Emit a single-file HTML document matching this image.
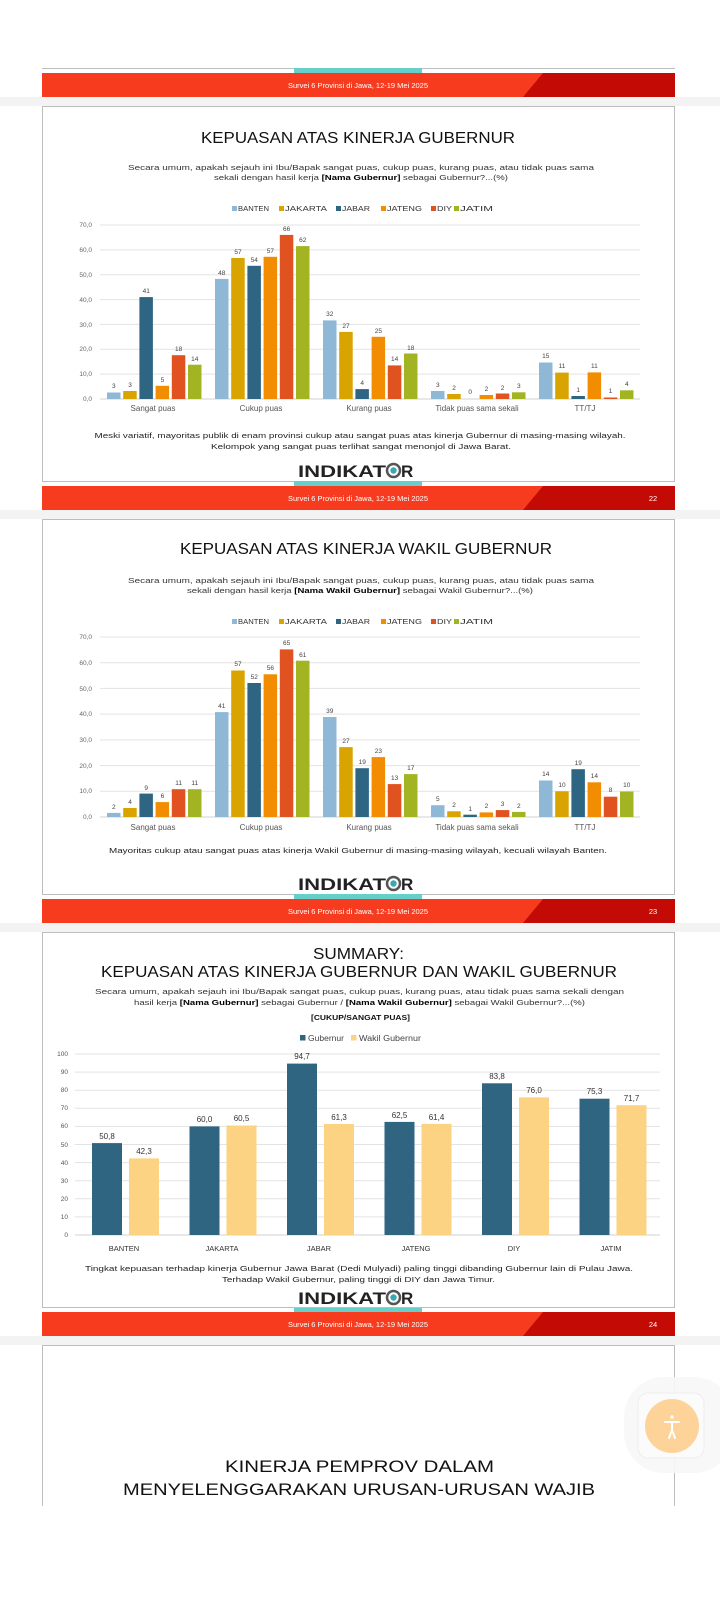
<!DOCTYPE html>
<html><head><meta charset="utf-8"><style>
html,body{margin:0;padding:0;background:#fff;}
svg{display:block;font-family:"Liberation Sans",sans-serif;}
</style></head><body>
<svg width="720" height="1600" viewBox="0 0 720 1600" xmlns="http://www.w3.org/2000/svg">
<defs>
<g id="redbar">
<rect x="42" y="0" width="633" height="24" fill="#f73b1f"/>
<polygon points="543,0 675,0 675,24 523,24" fill="#c40a05"/>
</g>
<g id="leg6" font-size="7.5" fill="#333">
<rect x="232" y="0" width="5" height="5" fill="#8fb8d6"/><text x="238" y="5" textLength="31" lengthAdjust="spacingAndGlyphs">BANTEN</text>
<rect x="279" y="0" width="5" height="5" fill="#d9a300"/><text x="285" y="5" textLength="42" lengthAdjust="spacingAndGlyphs">JAKARTA</text>
<rect x="336" y="0" width="5" height="5" fill="#2e6583"/><text x="342" y="5" textLength="28" lengthAdjust="spacingAndGlyphs">JABAR</text>
<rect x="381" y="0" width="5" height="5" fill="#f28c00"/><text x="387" y="5" textLength="35" lengthAdjust="spacingAndGlyphs">JATENG</text>
<rect x="431" y="0" width="5" height="5" fill="#e0521f"/><text x="437" y="5" textLength="15" lengthAdjust="spacingAndGlyphs">DIY</text>
<rect x="454" y="0" width="5" height="5" fill="#a3b422"/><text x="460" y="5" textLength="33" lengthAdjust="spacingAndGlyphs">JATIM</text>
</g>
</defs>
<rect width="720" height="1600" fill="#fff"/>

<line x1="42" y1="68.5" x2="675" y2="68.5" stroke="#bdbdbd"/>
<rect x="294" y="68" width="128" height="6" fill="#66cfc9"/>
<use href="#redbar" y="73"/>
<text x="358" y="88" font-size="7.5" fill="#fff" text-anchor="middle">Survei 6 Provinsi di Jawa, 12-19 Mei 2025</text>
<rect x="0" y="97" width="720" height="9" fill="#f3f3f3"/>

<!-- SLIDE 1 -->
<rect x="42.5" y="106.5" width="632" height="375" fill="#fff" stroke="#bdbdbd"/>
<text x="358" y="143" font-size="16" text-anchor="middle" fill="#111" textLength="314" lengthAdjust="spacingAndGlyphs">KEPUASAN ATAS KINERJA GUBERNUR</text>
<text x="361" y="170" font-size="7.5" text-anchor="middle" fill="#333" textLength="466" lengthAdjust="spacingAndGlyphs">Secara umum, apakah sejauh ini Ibu/Bapak sangat puas, cukup puas, kurang puas, atau tidak puas sama</text>
<text x="361" y="180" font-size="7.5" text-anchor="middle" fill="#333" textLength="294" lengthAdjust="spacingAndGlyphs">sekali dengan hasil kerja <tspan font-weight="bold" fill="#000">[Nama Gubernur]</tspan> sebagai Gubernur?...(%)</text>
<use href="#leg6" y="206"/>
<g stroke="#e3e3e3" stroke-width="1">
<line x1="100" y1="225" x2="640" y2="225"/><line x1="100" y1="249.9" x2="640" y2="249.9"/><line x1="100" y1="274.7" x2="640" y2="274.7"/><line x1="100" y1="299.6" x2="640" y2="299.6"/><line x1="100" y1="324.4" x2="640" y2="324.4"/><line x1="100" y1="349.3" x2="640" y2="349.3"/><line x1="100" y1="374.1" x2="640" y2="374.1"/><line x1="100" y1="399" x2="640" y2="399" stroke="#d0d0d0"/>
</g>
<g font-size="6.5" fill="#666" text-anchor="end">
<text x="92" y="227">70,0</text><text x="92" y="252">60,0</text><text x="92" y="277">50,0</text><text x="92" y="302">40,0</text><text x="92" y="327">30,0</text><text x="92" y="351">20,0</text><text x="92" y="376">10,0</text><text x="92" y="401">0,0</text>
</g>
<g>
<rect x="107" y="392.5" width="13.5" height="6.5" fill="#8fb8d6"/><rect x="123.2" y="391" width="13.5" height="8" fill="#d9a300"/><rect x="139.4" y="297.1" width="13.5" height="101.9" fill="#2e6583"/><rect x="155.6" y="385.8" width="13.5" height="13.2" fill="#f28c00"/><rect x="171.8" y="355.2" width="13.5" height="43.8" fill="#e0521f"/><rect x="188" y="364.7" width="13.5" height="34.3" fill="#a3b422"/>
<rect x="215" y="278.9" width="13.5" height="120.1" fill="#8fb8d6"/><rect x="231.2" y="258" width="13.5" height="141" fill="#d9a300"/><rect x="247.4" y="265.8" width="13.5" height="133.2" fill="#2e6583"/><rect x="263.6" y="256.8" width="13.5" height="142.2" fill="#f28c00"/><rect x="279.8" y="234.9" width="13.5" height="164.1" fill="#e0521f"/><rect x="296" y="246.1" width="13.5" height="152.9" fill="#a3b422"/>
<rect x="323" y="320.4" width="13.5" height="78.6" fill="#8fb8d6"/><rect x="339.2" y="331.9" width="13.5" height="67.1" fill="#d9a300"/><rect x="355.4" y="389.1" width="13.5" height="9.9" fill="#2e6583"/><rect x="371.6" y="336.8" width="13.5" height="62.2" fill="#f28c00"/><rect x="387.8" y="365.4" width="13.5" height="33.6" fill="#e0521f"/><rect x="404" y="353.5" width="13.5" height="45.5" fill="#a3b422"/>
<rect x="431" y="391" width="13.5" height="8" fill="#8fb8d6"/><rect x="447.2" y="394" width="13.5" height="5" fill="#d9a300"/><rect x="479.6" y="395" width="13.5" height="4" fill="#f28c00"/><rect x="495.8" y="393.5" width="13.5" height="5.5" fill="#e0521f"/><rect x="512" y="392.3" width="13.5" height="6.7" fill="#a3b422"/>
<rect x="539" y="362.5" width="13.5" height="36.5" fill="#8fb8d6"/><rect x="555.2" y="372.6" width="13.5" height="26.4" fill="#d9a300"/><rect x="571.4" y="396" width="13.5" height="3" fill="#2e6583"/><rect x="587.6" y="372.4" width="13.5" height="26.6" fill="#f28c00"/><rect x="603.8" y="397.5" width="13.5" height="1.5" fill="#e0521f"/><rect x="620" y="390.3" width="13.5" height="8.7" fill="#a3b422"/>
</g>
<g font-size="6.5" fill="#444" text-anchor="middle">
<text x="113.8" y="388">3</text><text x="130" y="387">3</text><text x="146.2" y="293">41</text><text x="162.4" y="382">5</text><text x="178.6" y="351">18</text><text x="194.8" y="361">14</text>
<text x="221.8" y="275">48</text><text x="238" y="254">57</text><text x="254.2" y="262">54</text><text x="270.4" y="253">57</text><text x="286.6" y="231">66</text><text x="302.8" y="242">62</text>
<text x="329.8" y="316">32</text><text x="346" y="328">27</text><text x="362.2" y="385">4</text><text x="378.4" y="333">25</text><text x="394.6" y="361">14</text><text x="410.8" y="350">18</text>
<text x="437.8" y="387">3</text><text x="454" y="390">2</text><text x="470.2" y="394">0</text><text x="486.4" y="391">2</text><text x="502.6" y="390">2</text><text x="518.8" y="388">3</text>
<text x="545.8" y="358">15</text><text x="562" y="368">11</text><text x="578.2" y="392">1</text><text x="594.4" y="368">11</text><text x="610.6" y="393">1</text><text x="626.8" y="386">4</text>
</g>
<g font-size="8" fill="#555" text-anchor="middle">
<text x="153" y="411">Sangat puas</text><text x="261" y="411">Cukup puas</text><text x="369" y="411">Kurang puas</text><text x="477" y="411">Tidak puas sama sekali</text><text x="585" y="411">TT/TJ</text>
</g>
<text x="360" y="438" font-size="7.5" text-anchor="middle" fill="#222" textLength="531" lengthAdjust="spacingAndGlyphs">Meski variatif, mayoritas publik di enam provinsi cukup atau sangat puas atas kinerja Gubernur di masing-masing wilayah.</text>
<text x="361" y="449" font-size="7.5" text-anchor="middle" fill="#222" textLength="300" lengthAdjust="spacingAndGlyphs">Kelompok yang sangat puas terlihat sangat menonjol di Jawa Barat.</text>
<g>
<text x="298" y="477" font-size="17" font-weight="bold" fill="#222" textLength="88" lengthAdjust="spacingAndGlyphs">INDIKAT</text>
<circle cx="393.5" cy="470.5" r="6.5" fill="none" stroke="#555" stroke-width="2.5"/><circle cx="393.5" cy="470.5" r="3.2" fill="#3aa8b0"/>
<text x="401" y="477" font-size="17" font-weight="bold" fill="#222">R</text>
</g>
<rect x="294" y="481" width="128" height="6" fill="#66cfc9"/>
<use href="#redbar" y="486"/>
<text x="358" y="501" font-size="7.5" fill="#fff" text-anchor="middle">Survei 6 Provinsi di Jawa, 12-19 Mei 2025</text>
<text x="653" y="501" font-size="7.5" fill="#fff" text-anchor="middle">22</text>
<rect x="0" y="510" width="720" height="9" fill="#f3f3f3"/>

<!-- SLIDE 2 -->
<rect x="42.5" y="519.5" width="632" height="375" fill="#fff" stroke="#bdbdbd"/>
<text x="366" y="554" font-size="16" text-anchor="middle" fill="#111" textLength="372" lengthAdjust="spacingAndGlyphs">KEPUASAN ATAS KINERJA WAKIL GUBERNUR</text>
<text x="361" y="583" font-size="7.5" text-anchor="middle" fill="#333" textLength="466" lengthAdjust="spacingAndGlyphs">Secara umum, apakah sejauh ini Ibu/Bapak sangat puas, cukup puas, kurang puas, atau tidak puas sama</text>
<text x="360" y="593" font-size="7.5" text-anchor="middle" fill="#333" textLength="346" lengthAdjust="spacingAndGlyphs">sekali dengan hasil kerja <tspan font-weight="bold" fill="#000">[Nama Wakil Gubernur]</tspan> sebagai Wakil Gubernur?...(%)</text>
<use href="#leg6" y="619"/>
<g stroke="#e3e3e3">
<line x1="100" y1="637" x2="640" y2="637"/><line x1="100" y1="662.7" x2="640" y2="662.7"/><line x1="100" y1="688.4" x2="640" y2="688.4"/><line x1="100" y1="714.1" x2="640" y2="714.1"/><line x1="100" y1="739.9" x2="640" y2="739.9"/><line x1="100" y1="765.6" x2="640" y2="765.6"/><line x1="100" y1="791.3" x2="640" y2="791.3"/><line x1="100" y1="817" x2="640" y2="817" stroke="#d0d0d0"/>
</g>
<g font-size="6.5" fill="#666" text-anchor="end">
<text x="92" y="639">70,0</text><text x="92" y="665">60,0</text><text x="92" y="691">50,0</text><text x="92" y="716">40,0</text><text x="92" y="742">30,0</text><text x="92" y="768">20,0</text><text x="92" y="793">10,0</text><text x="92" y="819">0,0</text>
</g>
<g>
<rect x="107" y="812.9" width="13.5" height="4.1" fill="#8fb8d6"/><rect x="123.2" y="808" width="13.5" height="9" fill="#d9a300"/><rect x="139.4" y="793.6" width="13.5" height="23.4" fill="#2e6583"/><rect x="155.6" y="802.1" width="13.5" height="14.9" fill="#f28c00"/><rect x="171.8" y="789.2" width="13.5" height="27.8" fill="#e0521f"/><rect x="188" y="789.2" width="13.5" height="27.8" fill="#a3b422"/>
<rect x="215" y="712.1" width="13.5" height="104.9" fill="#8fb8d6"/><rect x="231.2" y="670.5" width="13.5" height="146.5" fill="#d9a300"/><rect x="247.4" y="683" width="13.5" height="134" fill="#2e6583"/><rect x="263.6" y="674.3" width="13.5" height="142.7" fill="#f28c00"/><rect x="279.8" y="649.4" width="13.5" height="167.6" fill="#e0521f"/><rect x="296" y="660.7" width="13.5" height="156.3" fill="#a3b422"/>
<rect x="323" y="717" width="13.5" height="100" fill="#8fb8d6"/><rect x="339.2" y="747.1" width="13.5" height="69.9" fill="#d9a300"/><rect x="355.4" y="768.2" width="13.5" height="48.8" fill="#2e6583"/><rect x="371.6" y="757.1" width="13.5" height="59.9" fill="#f28c00"/><rect x="387.8" y="784.1" width="13.5" height="32.9" fill="#e0521f"/><rect x="404" y="774.1" width="13.5" height="42.9" fill="#a3b422"/>
<rect x="431" y="805.2" width="13.5" height="11.8" fill="#8fb8d6"/><rect x="447.2" y="811.3" width="13.5" height="5.7" fill="#d9a300"/><rect x="463.4" y="814.7" width="13.5" height="2.3" fill="#2e6583"/><rect x="479.6" y="812.4" width="13.5" height="4.6" fill="#f28c00"/><rect x="495.8" y="810.1" width="13.5" height="6.9" fill="#e0521f"/><rect x="512" y="811.9" width="13.5" height="5.1" fill="#a3b422"/>
<rect x="539" y="780.5" width="13.5" height="36.5" fill="#8fb8d6"/><rect x="555.2" y="791.3" width="13.5" height="25.7" fill="#d9a300"/><rect x="571.4" y="769.2" width="13.5" height="47.8" fill="#2e6583"/><rect x="587.6" y="782.3" width="13.5" height="34.7" fill="#f28c00"/><rect x="603.8" y="796.7" width="13.5" height="20.3" fill="#e0521f"/><rect x="620" y="791.5" width="13.5" height="25.5" fill="#a3b422"/>
</g>
<g font-size="6.5" fill="#444" text-anchor="middle">
<text x="113.8" y="809">2</text><text x="130" y="804">4</text><text x="146.2" y="790">9</text><text x="162.4" y="798">6</text><text x="178.6" y="785">11</text><text x="194.8" y="785">11</text>
<text x="221.8" y="708">41</text><text x="238" y="666">57</text><text x="254.2" y="679">52</text><text x="270.4" y="670">56</text><text x="286.6" y="645">65</text><text x="302.8" y="657">61</text>
<text x="329.8" y="713">39</text><text x="346" y="743">27</text><text x="362.2" y="764">19</text><text x="378.4" y="753">23</text><text x="394.6" y="780">13</text><text x="410.8" y="770">17</text>
<text x="437.8" y="801">5</text><text x="454" y="807">2</text><text x="470.2" y="811">1</text><text x="486.4" y="808">2</text><text x="502.6" y="806">3</text><text x="518.8" y="808">2</text>
<text x="545.8" y="776">14</text><text x="562" y="787">10</text><text x="578.2" y="765">19</text><text x="594.4" y="778">14</text><text x="610.6" y="792">8</text><text x="626.8" y="787">10</text>
</g>
<g font-size="8" fill="#555" text-anchor="middle">
<text x="153" y="830">Sangat puas</text><text x="261" y="830">Cukup puas</text><text x="369" y="830">Kurang puas</text><text x="477" y="830">Tidak puas sama sekali</text><text x="585" y="830">TT/TJ</text>
</g>
<text x="358" y="853" font-size="7.5" text-anchor="middle" fill="#222" textLength="498" lengthAdjust="spacingAndGlyphs">Mayoritas cukup atau sangat puas atas kinerja Wakil Gubernur di masing-masing wilayah, kecuali wilayah Banten.</text>
<g>
<text x="298" y="890" font-size="17" font-weight="bold" fill="#222" textLength="88" lengthAdjust="spacingAndGlyphs">INDIKAT</text>
<circle cx="393.5" cy="883.5" r="6.5" fill="none" stroke="#555" stroke-width="2.5"/><circle cx="393.5" cy="883.5" r="3.2" fill="#3aa8b0"/>
<text x="401" y="890" font-size="17" font-weight="bold" fill="#222">R</text>
</g>
<rect x="294" y="894" width="128" height="6" fill="#66cfc9"/>
<use href="#redbar" y="899"/>
<text x="358" y="914" font-size="7.5" fill="#fff" text-anchor="middle">Survei 6 Provinsi di Jawa, 12-19 Mei 2025</text>
<text x="653" y="914" font-size="7.5" fill="#fff" text-anchor="middle">23</text>
<rect x="0" y="923" width="720" height="9" fill="#f3f3f3"/>

<!-- SLIDE 3 -->
<rect x="42.5" y="932.5" width="632" height="375" fill="#fff" stroke="#bdbdbd"/>
<text x="358.5" y="959" font-size="15.5" text-anchor="middle" fill="#111" textLength="91" lengthAdjust="spacingAndGlyphs">SUMMARY:</text>
<text x="359" y="977" font-size="15.5" text-anchor="middle" fill="#111" textLength="516" lengthAdjust="spacingAndGlyphs">KEPUASAN ATAS KINERJA GUBERNUR DAN WAKIL GUBERNUR</text>
<text x="359.5" y="994" font-size="7.5" text-anchor="middle" fill="#333" textLength="529" lengthAdjust="spacingAndGlyphs">Secara umum, apakah sejauh ini Ibu/Bapak sangat puas, cukup puas, kurang puas, atau tidak puas sama sekali dengan</text>
<text x="359.5" y="1005" font-size="7.5" text-anchor="middle" fill="#333" textLength="451" lengthAdjust="spacingAndGlyphs">hasil kerja <tspan font-weight="bold" fill="#000">[Nama Gubernur]</tspan> sebagai Gubernur / <tspan font-weight="bold" fill="#000">[Nama Wakil Gubernur]</tspan> sebagai Wakil Gubernur?...(%)</text>
<text x="360.5" y="1020" font-size="7.5" font-weight="bold" text-anchor="middle" fill="#111" textLength="99" lengthAdjust="spacingAndGlyphs">[CUKUP/SANGAT PUAS]</text>
<g font-size="8" fill="#444">
<rect x="300" y="1035" width="5.5" height="5.5" fill="#2f6580"/><text x="308" y="1041" textLength="36" lengthAdjust="spacingAndGlyphs">Gubernur</text>
<rect x="351" y="1035" width="5.5" height="5.5" fill="#fcd283"/><text x="359" y="1041" textLength="62" lengthAdjust="spacingAndGlyphs">Wakil Gubernur</text>
</g>
<g stroke="#e3e3e3">
<line x1="75" y1="1054" x2="660" y2="1054"/><line x1="75" y1="1072.1" x2="660" y2="1072.1"/><line x1="75" y1="1090.2" x2="660" y2="1090.2"/><line x1="75" y1="1108.3" x2="660" y2="1108.3"/><line x1="75" y1="1126.4" x2="660" y2="1126.4"/><line x1="75" y1="1144.5" x2="660" y2="1144.5"/><line x1="75" y1="1162.6" x2="660" y2="1162.6"/><line x1="75" y1="1180.7" x2="660" y2="1180.7"/><line x1="75" y1="1198.8" x2="660" y2="1198.8"/><line x1="75" y1="1216.9" x2="660" y2="1216.9"/><line x1="75" y1="1235" x2="660" y2="1235" stroke="#d0d0d0"/>
</g>
<g font-size="6.5" fill="#555" text-anchor="end">
<text x="68" y="1056">100</text><text x="68" y="1074">90</text><text x="68" y="1092">80</text><text x="68" y="1110">70</text><text x="68" y="1128">60</text><text x="68" y="1147">50</text><text x="68" y="1165">40</text><text x="68" y="1183">30</text><text x="68" y="1201">20</text><text x="68" y="1219">10</text><text x="68" y="1237">0</text>
</g>
<g>
<rect x="92" y="1143.1" width="30" height="91.9" fill="#2f6580"/><rect x="129" y="1158.4" width="30" height="76.6" fill="#fcd283"/>
<rect x="189.5" y="1126.4" width="30" height="108.6" fill="#2f6580"/><rect x="226.5" y="1125.5" width="30" height="109.5" fill="#fcd283"/>
<rect x="287" y="1063.6" width="30" height="171.4" fill="#2f6580"/><rect x="324" y="1124" width="30" height="111" fill="#fcd283"/>
<rect x="384.5" y="1121.9" width="30" height="113.1" fill="#2f6580"/><rect x="421.5" y="1123.9" width="30" height="111.1" fill="#fcd283"/>
<rect x="482" y="1083.3" width="30" height="151.7" fill="#2f6580"/><rect x="519" y="1097.4" width="30" height="137.6" fill="#fcd283"/>
<rect x="579.5" y="1098.7" width="30" height="136.3" fill="#2f6580"/><rect x="616.5" y="1105.2" width="30" height="129.8" fill="#fcd283"/>
</g>
<g font-size="8" fill="#333" text-anchor="middle">
<text x="107" y="1139">50,8</text><text x="144" y="1154">42,3</text>
<text x="204.5" y="1122">60,0</text><text x="241.5" y="1121">60,5</text>
<text x="302" y="1059">94,7</text><text x="339" y="1120">61,3</text>
<text x="399.5" y="1118">62,5</text><text x="436.5" y="1120">61,4</text>
<text x="497" y="1079">83,8</text><text x="534" y="1093">76,0</text>
<text x="594.5" y="1094">75,3</text><text x="631.5" y="1101">71,7</text>
</g>
<g font-size="7.5" fill="#333" text-anchor="middle">
<text x="124" y="1251">BANTEN</text><text x="222" y="1251">JAKARTA</text><text x="319" y="1251">JABAR</text><text x="416" y="1251">JATENG</text><text x="514" y="1251">DIY</text><text x="611" y="1251">JATIM</text>
</g>
<text x="359" y="1271" font-size="7.5" text-anchor="middle" fill="#222" textLength="548" lengthAdjust="spacingAndGlyphs">Tingkat kepuasan terhadap kinerja Gubernur Jawa Barat (Dedi Mulyadi) paling tinggi dibanding Gubernur lain di Pulau Jawa.</text>
<text x="358.5" y="1282" font-size="7.5" text-anchor="middle" fill="#222" textLength="273" lengthAdjust="spacingAndGlyphs">Terhadap Wakil Gubernur, paling tinggi di DIY dan Jawa Timur.</text>
<g>
<text x="298" y="1304" font-size="17" font-weight="bold" fill="#222" textLength="88" lengthAdjust="spacingAndGlyphs">INDIKAT</text>
<circle cx="393.5" cy="1297.5" r="6.5" fill="none" stroke="#555" stroke-width="2.5"/><circle cx="393.5" cy="1297.5" r="3.2" fill="#3aa8b0"/>
<text x="401" y="1304" font-size="17" font-weight="bold" fill="#222">R</text>
</g>
<rect x="294" y="1308" width="128" height="6" fill="#66cfc9"/>
<use href="#redbar" y="1312"/>
<text x="358" y="1327" font-size="7.5" fill="#fff" text-anchor="middle">Survei 6 Provinsi di Jawa, 12-19 Mei 2025</text>
<text x="653" y="1327" font-size="7.5" fill="#fff" text-anchor="middle">24</text>
<rect x="0" y="1336" width="720" height="9" fill="#f3f3f3"/>

<!-- SLIDE 4 (partial) -->
<line x1="42.5" y1="1345" x2="42.5" y2="1506" stroke="#bdbdbd"/>
<line x1="674.5" y1="1345" x2="674.5" y2="1506" stroke="#bdbdbd"/>
<line x1="42" y1="1345.5" x2="675" y2="1345.5" stroke="#bdbdbd"/>
<text x="359.5" y="1472" font-size="16.5" text-anchor="middle" fill="#111" textLength="269" lengthAdjust="spacingAndGlyphs">KINERJA PEMPROV DALAM</text>
<text x="359" y="1495" font-size="16.5" text-anchor="middle" fill="#111" textLength="472" lengthAdjust="spacingAndGlyphs">MENYELENGGARAKAN URUSAN-URUSAN WAJIB</text>

<rect x="624" y="1377" width="110" height="96" rx="40" fill="#f7f7f7" opacity="0.9"/>
<rect x="638" y="1393" width="66" height="65" rx="10" fill="#fbfbfb" stroke="#eeeeee"/>
<circle cx="672" cy="1426" r="27" fill="#fdd39a"/>
<g stroke="#fff" stroke-width="2" stroke-linecap="round" fill="none">
<circle cx="672" cy="1417" r="1.8" fill="#fff" stroke="none"/>
<line x1="665" y1="1422" x2="679" y2="1422"/>
<line x1="672" y1="1422" x2="672" y2="1430"/>
<line x1="672" y1="1430" x2="669" y2="1438"/>
<line x1="672" y1="1430" x2="675" y2="1438"/>
</g>
</svg>
</body></html>
